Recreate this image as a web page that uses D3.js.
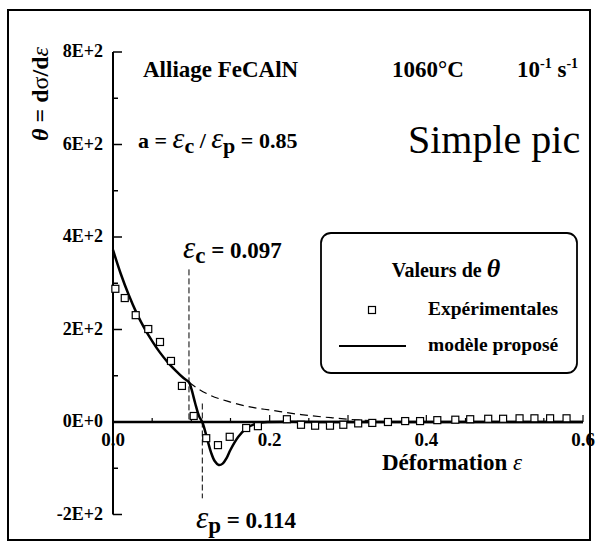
<!DOCTYPE html>
<html>
<head>
<meta charset="utf-8">
<script src="https://cdn.jsdelivr.net/npm/d3@7"></script>
<style>
  body { margin: 0; background: #fff; }
  svg text { font-family: "Liberation Serif", "DejaVu Serif", Times, serif; }
</style>
</head>
<body>
<div id="chart"></div>
<script>
var width = 597, height = 546;

// experimental points (strain, theta)
var expStrain = [0.003,0.015,0.029,0.045,0.060,0.074,0.088,0.103,0.119,0.134,0.149,0.170,0.185,
  0.222,0.240,0.258,0.277,0.294,0.313,0.331,0.351,0.373,0.392,0.414,0.437,0.456,0.479,0.498,
  0.519,0.538,0.558,0.579];
var expTheta = [288,268,231,201,173,132,78,13,-35,-50,-32,-13,-9,
  6,-6,-8,-8,-6,-3,-2,0,2,2,4,5,6,7,7,
  8,8,8,8];

// proposed model (solid)
var modStrain = [0,0.01,0.02,0.03,0.04,0.05,0.06,0.07,0.08,0.09,0.097,0.100,0.105,0.110,0.114,
  0.120,0.125,0.130,0.135,0.140,0.145,0.150,0.160,0.170,0.180,0.190,0.200,0.300,0.400,0.500,0.600];
var modTheta = [372,320,275,236,203,175,150,129,111,95,86,72,40,12,0,
  -35,-65,-85,-93,-90,-78,-60,-32,-14,-5,-1,0,0,0,0,0];

// extrapolated curve (dashed)
var dashStrain = [0.097,0.10,0.12,0.15,0.18,0.20,0.24,0.28,0.30,0.33];
var dashTheta = [86,82,61,43,31,26,16,9,6,3];

var epsC = 0.097, epsP = 0.114;

var yTicks = [-200,0,200,400,600,800];
var yTickLabels = ["-2E+2","0E+0","2E+2","4E+2","6E+2","8E+2"];
var xTicks = [0,0.2,0.4,0.6];
var xTickLabels = ["0.0","0.2","0.4","0.6"];

var svg = d3.select("#chart").append("svg")
  .attr("width", width)
  .attr("height", height);

var x = d3.scaleLinear().domain([0,0.6]).range([113,583]);
var y = d3.scaleLinear().domain([-200,800]).range([514.5,52]);

// outer frame
svg.append("rect")
  .attr("x",8).attr("y",10)
  .attr("width",582).attr("height",530)
  .attr("fill","none")
  .attr("stroke","#000")
  .attr("stroke-width",2);

// y axis
svg.append("line")
  .attr("x1",x(0)).attr("x2",x(0))
  .attr("y1",y(800)).attr("y2",y(-200))
  .attr("stroke","#000").attr("stroke-width",2);

var yMinor = d3.range(-200,801,100);
svg.selectAll(".ytick").data(yMinor).enter().append("line")
  .attr("x1",x(0))
  .attr("x2",function(d){ return x(0) + (d % 200 == 0 ? 9 : 5); })
  .attr("y1",function(d){ return y(d); })
  .attr("y2",function(d){ return y(d); })
  .attr("stroke","#000").attr("stroke-width",1.5);

svg.selectAll(".ylab").data(yTicks).enter().append("text")
  .attr("x",103)
  .attr("y",function(d){ return y(d)+5; })
  .text(function(d,i){ return yTickLabels[i]; })
  .style("font-size","18px")
  .style("font-weight","bold")
  .style("text-anchor","end");

// x axis on zero line
svg.append("line")
  .attr("x1",x(0)).attr("x2",x(0.6))
  .attr("y1",y(0)).attr("y2",y(0))
  .attr("stroke","#000").attr("stroke-width",2.5);

var xMinor = d3.range(1,13).map(function(i){ return i*0.05; });
svg.selectAll(".xtick").data(xMinor).enter().append("line")
  .attr("x1",function(d){ return x(d); })
  .attr("x2",function(d){ return x(d); })
  .attr("y1",y(0))
  .attr("y2",function(d,i){ return y(0) - ((i+1) % 2 == 0 ? 7 : 4); })
  .attr("stroke","#000").attr("stroke-width",1.2);

svg.selectAll(".xlab").data(xTicks).enter().append("text")
  .attr("x",function(d){ return x(d); })
  .attr("y",446)
  .text(function(d,i){ return xTickLabels[i]; })
  .style("font-size","19px")
  .style("font-weight","bold")
  .style("text-anchor","middle");

// axis titles
var xt = svg.append("text")
  .attr("x",452).attr("y",470)
  .style("font-size","23px").style("font-weight","bold")
  .style("text-anchor","middle");
xt.append("tspan").text("Déformation ");
xt.append("tspan").text("ε").style("font-style","italic").style("font-weight","normal");

var yt = svg.append("text")
  .attr("transform","translate(48,94) rotate(-90)")
  .style("font-size","24px").style("font-weight","bold")
  .style("text-anchor","middle");
yt.append("tspan").text("θ").style("font-style","italic");
yt.append("tspan").text(" = d");
yt.append("tspan").text("σ").style("font-weight","normal");
yt.append("tspan").text("/d");
yt.append("tspan").text("ε").style("font-style","italic").style("font-weight","normal");

// vertical dashed markers
svg.append("line")
  .attr("x1",x(epsC)).attr("x2",x(epsC))
  .attr("y1",y(330)).attr("y2",y(0))
  .attr("stroke","#000").attr("stroke-width",1)
  .attr("stroke-dasharray","6,3");
svg.append("line")
  .attr("x1",x(epsP)).attr("x2",x(epsP))
  .attr("y1",y(40)).attr("y2",y(-165))
  .attr("stroke","#000").attr("stroke-width",1)
  .attr("stroke-dasharray","6,3");

// curves
var line = d3.line().x(function(d){ return x(d[0]); }).y(function(d){ return y(d[1]); }).curve(d3.curveMonotoneX);

svg.append("path")
  .datum(dashStrain.map(function(d,i){ return [d,dashTheta[i]]; }))
  .attr("d",line)
  .attr("fill","none")
  .attr("stroke","#000").attr("stroke-width",1.2)
  .attr("stroke-dasharray","8,5");

svg.append("path")
  .datum(modStrain.map(function(d,i){ return [d,modTheta[i]]; }))
  .attr("d",d3.line().x(function(d){ return x(d[0]); }).y(function(d){ return y(d[1]); }).curve(d3.curveCatmullRom))
  .attr("fill","none")
  .attr("stroke","#000").attr("stroke-width",2.5);

// experimental squares
svg.selectAll(".pt").data(expStrain).enter().append("rect")
  .attr("x",function(d){ return x(d)-3.5; })
  .attr("y",function(d,i){ return y(expTheta[i])-3.5; })
  .attr("width",7).attr("height",7)
  .attr("fill","#fff")
  .attr("stroke","#000").attr("stroke-width",1.2);

// annotations
svg.append("text").attr("x",143).attr("y",77)
  .style("font-size","23px").style("font-weight","bold")
  .text("Alliage FeCAlN");
svg.append("text").attr("x",392).attr("y",77)
  .style("font-size","23px").style("font-weight","bold")
  .text("1060°C");
var rate = svg.append("text").attr("x",517).attr("y",77)
  .style("font-size","23px").style("font-weight","bold");
rate.append("tspan").text("10");
rate.append("tspan").text("-1").attr("dy",-9).style("font-size","14px");
rate.append("tspan").text(" s").attr("dy",9);
rate.append("tspan").text("-1").attr("dy",-9).style("font-size","14px");

var ra = svg.append("text").attr("x",138).attr("y",148)
  .style("font-size","22px").style("font-weight","bold");
ra.append("tspan").text("a = ");
ra.append("tspan").text("ε").style("font-style","italic").style("font-weight","normal").style("font-size","30px");
ra.append("tspan").text("c").attr("dy",5);
ra.append("tspan").text(" / ").attr("dy",-5);
ra.append("tspan").text("ε").style("font-style","italic").style("font-weight","normal").style("font-size","30px");
ra.append("tspan").text("p").attr("dy",5);
ra.append("tspan").text(" = 0.85").attr("dy",-5);

svg.append("text").attr("x",408).attr("y",153)
  .style("font-size","40px")
  .text("Simple pic");

var ec = svg.append("text").attr("x",183).attr("y",258)
  .style("font-size","23px").style("font-weight","bold");
ec.append("tspan").text("ε").style("font-style","italic").style("font-weight","normal").style("font-size","31px");
ec.append("tspan").text("c").attr("dy",5);
ec.append("tspan").text(" = 0.097").attr("dy",-5);

var ep = svg.append("text").attr("x",196).attr("y",528)
  .style("font-size","23px").style("font-weight","bold");
ep.append("tspan").text("ε").style("font-style","italic").style("font-weight","normal").style("font-size","31px");
ep.append("tspan").text("p").attr("dy",5);
ep.append("tspan").text(" = 0.114").attr("dy",-5);

// legend
var lg = svg.append("g");
lg.append("rect")
  .attr("x",321).attr("y",233)
  .attr("width",256).attr("height",140)
  .attr("rx",10).attr("ry",10)
  .attr("fill","#fff")
  .attr("stroke","#000").attr("stroke-width",1.8);
var lt = lg.append("text").attr("x",446).attr("y",277)
  .style("font-size","20px").style("font-weight","bold")
  .style("text-anchor","middle");
lt.append("tspan").text("Valeurs de ");
lt.append("tspan").text("θ").style("font-style","italic").style("font-size","26px");
lg.append("rect")
  .attr("x",368.5).attr("y",306.5)
  .attr("width",7).attr("height",7)
  .attr("fill","#fff").attr("stroke","#000").attr("stroke-width",1.2);
lg.append("text").attr("x",428).attr("y",315)
  .style("font-size","19.5px").style("font-weight","bold")
  .text("Expérimentales");
lg.append("line")
  .attr("x1",339).attr("x2",406)
  .attr("y1",346).attr("y2",346)
  .attr("stroke","#000").attr("stroke-width",1.8);
lg.append("text").attr("x",428).attr("y",351)
  .style("font-size","19.5px").style("font-weight","bold")
  .text("modèle proposé");
</script>
</body>
</html>
